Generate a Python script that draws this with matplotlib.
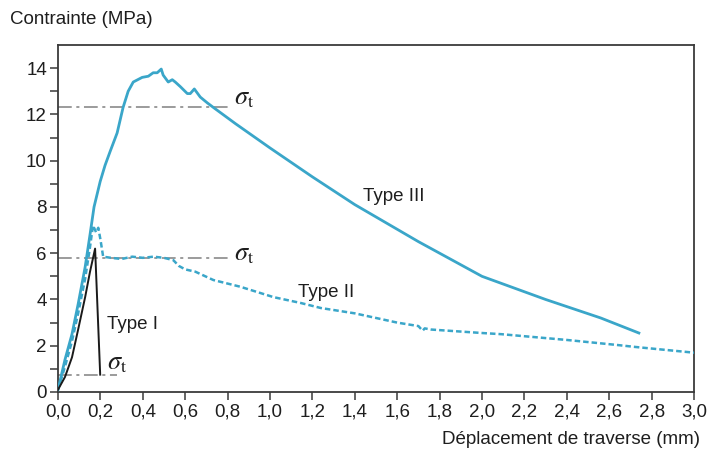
import matplotlib
matplotlib.use("Agg")
import matplotlib.pyplot as plt

plt.rcParams['font.family'] = ['Liberation Sans', 'DejaVu Sans']
plt.rcParams['mathtext.fontset'] = 'stix'

# ---- data ----
type3_x = [0, 0.033, 0.066, 0.095, 0.128, 0.151, 0.17, 0.199, 0.222, 0.246, 0.279, 0.307,
           0.331, 0.355, 0.397, 0.426, 0.449, 0.468, 0.487, 0.496, 0.52, 0.539, 0.553,
           0.577, 0.61, 0.624, 0.643, 0.671, 0.704, 0.733, 0.837, 1.0, 1.2, 1.4, 1.7,
           2.0, 2.3, 2.56, 2.74]
type3_y = [0.1, 1.4, 2.5, 3.8, 5.4, 6.8, 8.0, 9.1, 9.8, 10.4, 11.2, 12.3,
           13.0, 13.4, 13.6, 13.65, 13.8, 13.8, 13.96, 13.7, 13.4, 13.5, 13.4,
           13.2, 12.9, 12.9, 13.1, 12.75, 12.5, 12.3, 11.6, 10.55, 9.3, 8.1, 6.5,
           5.0, 4.0, 3.2, 2.55]

type2_x = [0, 0.033, 0.066, 0.095, 0.128, 0.15, 0.165, 0.18, 0.19, 0.2, 0.213, 0.25,
           0.3, 0.35, 0.4, 0.45, 0.5, 0.544, 0.57, 0.6, 0.648, 0.733, 0.86, 1.017,
           1.144, 1.24, 1.4, 1.6, 1.70, 1.72, 1.73, 1.76, 2.0, 2.09, 2.4, 2.64, 2.72, 3.0]
type2_y = [0.1, 1.1, 2.2, 3.4, 4.9, 6.2, 7.2, 6.9, 7.1, 6.6, 5.85, 5.8,
           5.75, 5.85, 5.8, 5.85, 5.8, 5.7, 5.45, 5.3, 5.2, 4.84, 4.55, 4.1,
           3.85, 3.63, 3.4, 3.0, 2.85, 2.65, 2.75, 2.7, 2.55, 2.5, 2.25, 2.03, 1.95, 1.7]

type1_x = [0, 0.033, 0.066, 0.095, 0.128, 0.151, 0.175, 0.199]
type1_y = [0.1, 0.65, 1.5, 2.7, 4.1, 5.2, 6.2, 0.75]

sigma_levels = [12.3, 5.8, 0.75]
sigma_x_end = [0.82, 0.82, 0.28]
sigma_label_pos = [(0.83, 12.7), (0.83, 5.95), (0.23, 1.25)]

type_labels = ["Type III", "Type II", "Type I"]
type_label_pos = [(1.44, 8.43), (1.13, 4.28), (0.23, 2.9)]

x_ticks = [i * 0.2 for i in range(16)]
x_tick_labels = ["0,0", "0,2", "0,4", "0,6", "0,8", "1,0", "1,2", "1,4", "1,6", "1,8",
                 "2,0", "2,2", "2,4", "2,6", "2,8", "3,0"]
y_ticks = [0, 2, 4, 6, 8, 10, 12, 14]
y_minor = [1, 3, 5, 7, 9, 11, 13]

blue = "#3aa6c9"
gray = "#808080"
spine_c = "#3a3a3a"
txt_c = "#1e1e1e"

fig = plt.figure(figsize=(7.07, 4.53), dpi=100)
ax = fig.add_axes([58/707, 1 - 392/453, (694 - 58)/707, (392 - 45)/453])

for lvl, xe in zip(sigma_levels, sigma_x_end):
    ax.plot([0, xe], [lvl, lvl], color=gray, lw=1.1, dashes=(9, 3, 2, 3), zorder=1)

ax.plot(type3_x, type3_y, color=blue, lw=2.0, solid_joinstyle='round', zorder=3)
ax.plot(type2_x, type2_y, color=blue, lw=1.8, dashes=(2.2, 1.2), zorder=3)
ax.plot(type1_x, type1_y, color="#1a1a1a", lw=1.4, zorder=4)

for (sx, sy) in sigma_label_pos:
    ax.text(sx, sy, r'$\sigma_\mathrm{t}$', fontsize=19, color=txt_c,
            ha='left', va='center')

for lab, (tx, ty) in zip(type_labels, type_label_pos):
    ax.text(tx, ty, lab, fontsize=13.5, color=txt_c, ha='left', va='center')

ax.set_xlim(0, 3.0)
ax.set_ylim(0, 15)
ax.set_xticks(x_ticks)
ax.set_xticklabels(x_tick_labels)
ax.set_yticks(y_ticks)
ax.set_yticks(y_minor, minor=True)
ax.tick_params(axis='both', which='both', direction='out', length=6, width=1.1,
               color=spine_c, labelsize=13.5, labelcolor=txt_c, pad=2)
ax.tick_params(axis='y', which='minor', length=6)
for s in ax.spines.values():
    s.set_color(spine_c)
    s.set_linewidth(1.3)

fig.text(10/707, 1 - 20/453, "Contrainte (MPa)", fontsize=13.5, color=txt_c,
         ha='left', va='center')
fig.text(700/707, 1 - 440/453, "Déplacement de traverse (mm)", fontsize=13.5,
         color=txt_c, ha='right', va='center')

fig.savefig("out.png", dpi=100)
